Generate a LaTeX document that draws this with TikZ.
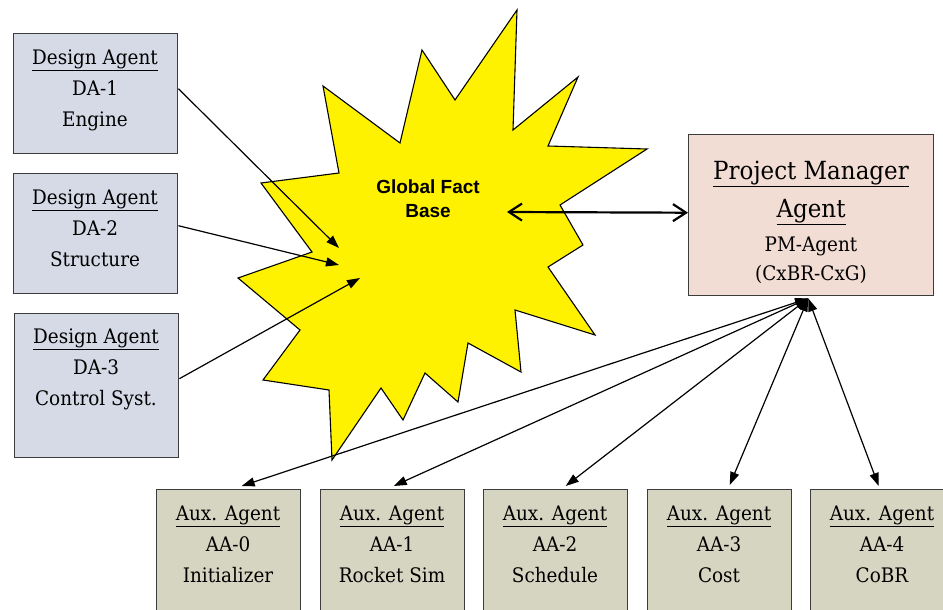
\documentclass[tikz,border=0pt]{standalone}
\usepackage{fontspec}
\setmainfont{DejaVu Serif}[FakeStretch=0.92]
\newfontfamily\starsans{Liberation Sans}
\usetikzlibrary{arrows.meta}

\definecolor{starfill}{RGB}{255,242,0}
\definecolor{dafill}{RGB}{214,218,230}
\definecolor{pmfill}{RGB}{242,221,213}
\definecolor{aafill}{RGB}{214,213,194}
\definecolor{boxline}{RGB}{60,60,60}

\begin{document}
% text nodes are placed by the baseline of their last line
\begin{tikzpicture}[x=1pt,y=-1pt,
  agentbox/.style={draw=boxline, line width=1.4pt, rectangle, inner sep=0pt, anchor=north west},
  dabox/.style={agentbox, fill=dafill, minimum width=164pt, minimum height=120pt},
  da3box/.style={agentbox, fill=dafill, minimum width=164pt, minimum height=144pt},
  pmbox/.style={agentbox, fill=pmfill, minimum width=245pt, minimum height=161pt},
  aabox/.style={agentbox, fill=aafill, minimum width=144pt, minimum height=140pt},
  boxtext/.style={anchor=base, inner sep=0pt, align=center, font=\fontsize{20}{31}\selectfont},
  pmtitle/.style={anchor=base, inner sep=0pt, font=\fontsize{25}{30}\selectfont},
  pmsub/.style={anchor=base, inner sep=0pt, font=\fontsize{20}{29}\selectfont, align=center},
  agenttip/.tip={Triangle[length=13pt,width=9pt]},
  barbtip/.tip={Straight Barb[length=13pt,width=17pt]},
  inlink/.style={line width=1.2pt, -{agenttip}},
  auxlink/.style={line width=1.2pt, {agenttip}-{agenttip}},
  baselink/.style={line width=2.2pt, {barbtip}-{barbtip}}
]
\useasboundingbox (0,0) rectangle (943,610);
\clip (0,0) rectangle (943,610);

% global fact base: starburst
\draw[fill=starfill, line width=1.1pt, line join=miter]
  (517,10) -- (513,130) -- (578,77) -- (548,146) -- (647,149) -- (560,205)
  -- (583,245) -- (548,267) -- (595,335) -- (515,310) -- (521,372) -- (468,343)
  -- (458,402) -- (425,373) -- (403,420) -- (381,388) -- (332,460) -- (329,390)
  -- (263,380) -- (300,330) -- (238,278) -- (312,252) -- (261,183) -- (339,173)
  -- (323,86) -- (400,143) -- (422,50) -- (455,100) -- cycle;
\node[anchor=base, inner sep=0pt, align=center,
      font=\starsans\bfseries\fontsize{19}{24}\selectfont] (gfb) at (428,217) {Global Fact\\Base};

% design agents
\node[dabox] (da1) at (13,33) {};
\node[dabox] (da2) at (13,173) {};
\node[da3box] (da3) at (14,313) {};
\node[boxtext] (da1t) at (95,126) {\underline{Design Agent}\\DA-1\\Engine};
\node[boxtext] (da2t) at (95,266) {\underline{Design Agent}\\DA-2\\Structure};
\node[boxtext] (da3t) at (96,405) {\underline{Design Agent}\\DA-3\\Control Syst.};

% project manager
\node[pmbox] (pm) at (688,134) {};
\node[pmtitle] (pm1) at (811,179) {\underline{Project Manager}};
\node[pmtitle] (pm2) at (811,217) {\underline{Agent}};
\node[pmsub] (pm3) at (811,280) {PM-Agent\\(CxBR-CxG)};

% auxiliary agents
\node[aabox] (aa0) at (156,489) {};
\node[aabox] (aa1) at (320,489) {};
\node[aabox] (aa2) at (483,489) {};
\node[aabox] (aa3) at (647,489) {};
\node[aabox] (aa4) at (810,489) {};
\node[boxtext] (aa0t) at (228,582) {\underline{Aux. Agent}\\AA-0\\Initializer};
\node[boxtext] (aa1t) at (392,582) {\underline{Aux. Agent}\\AA-1\\Rocket Sim};
\node[boxtext] (aa2t) at (555,582) {\underline{Aux. Agent}\\AA-2\\Schedule};
\node[boxtext] (aa3t) at (719,582) {\underline{Aux. Agent}\\AA-3\\Cost};
\node[boxtext] (aa4t) at (882,582) {\underline{Aux. Agent}\\AA-4\\CoBR};

% arrows into the fact base
\coordinate (in1) at (339,248);
\coordinate (in2) at (339,265);
\coordinate (in3) at (360,278);
\draw[inlink] ([yshift=5pt]da1.east) -- (in1);
\draw[inlink] ([yshift=8pt]da2.east) -- (in2);
\draw[inlink] ([yshift=7pt]da3.east) -- (in3);

% fact base <-> project manager
\coordinate (gfbport) at (507,212);
\draw[baselink] (gfbport) -- ([yshift=2.5pt]pm.west);

% project manager <-> auxiliary agents
\coordinate (pmhub) at ([xshift=-3pt, yshift=-2pt]pm.south);
\draw[auxlink] (pmhub) -- ([xshift=13pt, yshift=3pt]aa0.north);
\draw[auxlink] (pmhub) -- ([xshift=1pt, yshift=3pt]aa1.north);
\draw[auxlink] (pmhub) -- ([xshift=10pt, yshift=3pt]aa2.north);
\draw[auxlink] (pmhub) -- ([xshift=10pt, yshift=4pt]aa3.north);
\draw[auxlink] (pmhub) -- ([xshift=-4pt, yshift=3pt]aa4.north);
\end{tikzpicture}
\end{document}
